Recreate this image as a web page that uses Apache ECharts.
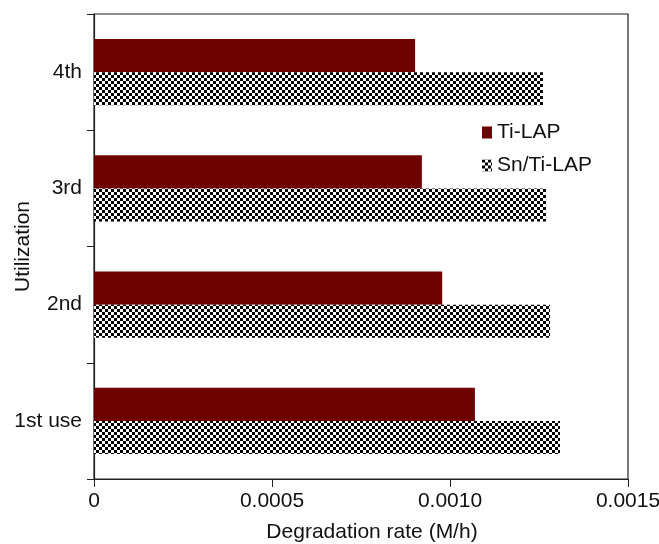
<!DOCTYPE html>
<html><head><meta charset="utf-8">
<script src="https://cdn.jsdelivr.net/npm/echarts@6/dist/echarts.min.js"></script>
<style>html,body{margin:0;padding:0;background:#fff}#c{width:659px;height:544px}</style>
</head><body><div id="c"></div>
<script>
const categories = ['1st use', '2nd', '3rd', '4th'];
const tiLAP = [0.00107, 0.000978, 0.000921, 0.000902];
const snTiLAP = [0.001309, 0.001281, 0.00127, 0.001261];
const xTicks = [0, 0.0005, 0.0010, 0.0015];
const xLabels = ['0', '0.0005', '0.0010', '0.0015'];

const cv = document.createElement('canvas');
cv.width = 6; cv.height = 6;
const cx = cv.getContext('2d');
cx.fillStyle = '#fff'; cx.fillRect(0,0,6,6);
cx.fillStyle = '#000';
cx.fillRect(0,0,3,3); cx.fillRect(3,3,3,3);

const font = 'Liberation Sans, Arial, Helvetica, sans-serif';
const chart = echarts.init(document.getElementById('c'));
chart.setOption({
  animation: false,
  backgroundColor: '#fff',
  grid: {left: 94, right: 31, top: 14, bottom: 65, show: true, borderColor: '#222', borderWidth: 1.2,
    containLabel: false, outerBoundsMode: 'none'},
  legend: {
    data: ['Ti-LAP', 'Sn/Ti-LAP'],
    orient: 'vertical', left: 477, top: 117, itemWidth: 10, itemHeight: 12, itemGap: 12,
    icon: 'rect',
    textStyle: {fontFamily: font, fontSize: 21, color: '#111'}
  },
  xAxis: {
    type: 'value', min: xTicks[0], max: xTicks[xTicks.length-1], interval: 0.0005,
    name: 'Degradation rate (M/h)', nameLocation: 'middle', nameGap: 43, nameMoveOverlap: false,
    nameTextStyle: {fontFamily: font, fontSize: 21, color: '#111', padding: [0, 0, 0, 22]},
    axisLine: {show: true, lineStyle: {color: '#222', width: 1.2}},
    axisTick: {show: true, length: 8, lineStyle: {color: '#222'}},
    splitLine: {show: false},
    axisLabel: {fontFamily: font, fontSize: 21, color: '#111', margin: 12,
      formatter: v => { const i = xTicks.findIndex(t => Math.abs(t - v) < 1e-9); return i >= 0 ? xLabels[i] : ''; }}
  },
  yAxis: {
    type: 'category', data: categories,
    name: 'Utilization', nameLocation: 'middle', nameGap: 60, nameRotate: 90, nameMoveOverlap: false,
    nameTextStyle: {fontFamily: font, fontSize: 21, color: '#111'},
    axisLine: {show: true, lineStyle: {color: '#222', width: 1.2}},
    axisTick: {show: true, length: 7, lineStyle: {color: '#222'}},
    axisLabel: {fontFamily: font, fontSize: 21, color: '#111', margin: 12}
  },
  series: [
    {name: 'Ti-LAP', type: 'bar', data: tiLAP, barGap: '0%', barCategoryGap: '43%',
      itemStyle: {color: '#6e0000'}},
    {name: 'Sn/Ti-LAP', type: 'bar', data: snTiLAP, barGap: '0%', barCategoryGap: '43%',
      itemStyle: {color: {image: cv, repeat: 'repeat'}}}
  ]
});
</script></body></html>
